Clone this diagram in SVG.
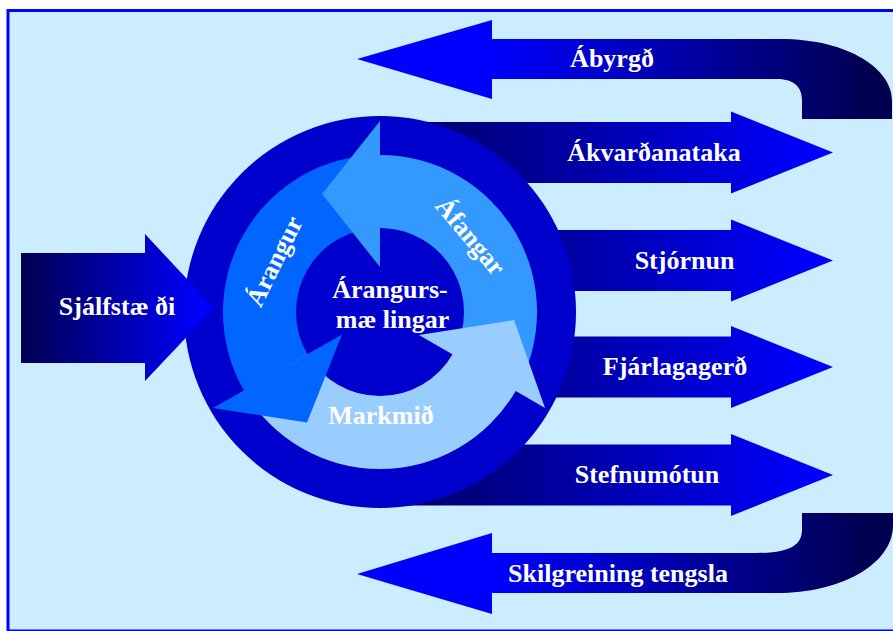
<svg xmlns="http://www.w3.org/2000/svg" width="893" height="631" viewBox="0 0 893 631">
  <defs>
    <linearGradient id="gradRight" gradientUnits="userSpaceOnUse" x1="400" y1="0" x2="820" y2="0">
      <stop offset="0" stop-color="#000066"/>
      <stop offset="1" stop-color="#0000FF"/>
    </linearGradient>
    <linearGradient id="gradLeftCurl" gradientUnits="userSpaceOnUse" x1="490" y1="0" x2="870" y2="0">
      <stop offset="0" stop-color="#0000FF"/>
      <stop offset="1" stop-color="#000050"/>
    </linearGradient>
    <linearGradient id="gradIn" gradientUnits="userSpaceOnUse" x1="21" y1="0" x2="205" y2="0">
      <stop offset="0" stop-color="#000050"/>
      <stop offset="1" stop-color="#0000FF"/>
    </linearGradient>
    <style>
      .lbl { font-family: 'Liberation Serif', 'DejaVu Serif', serif; font-weight: bold; font-size: 26px; fill: #FFFFFF; text-anchor: middle; }
      .out { fill: url(#gradRight); }
      .curl { fill: url(#gradLeftCurl); }
      .ring { fill: #0000CC; }
      .c1 { fill: #0066FF; }
      .c2 { fill: #3399FF; }
      .c3 { fill: #99CCFF; }
    </style>
  </defs>

  <!-- panel -->
  <rect x="0" y="0" width="893" height="631" fill="#FFFFFF"/>
  <rect x="8" y="10.5" width="900" height="620.5" fill="#CCECFF" stroke="#0000FF" stroke-width="3"/>

  <!-- outgoing arrows (shafts start behind the cycle) -->
  <g id="connectors" font-family="Liberation Serif, serif">
    <g id="arrow-akvardanataka">
      <path class="out" d="M380,122 L731,122 L731,111.5 L833,152.5 L731,193.5 L731,183 L380,183 Z"/>
      <text class="lbl" x="654" y="161">Ákvarðanataka</text>
    </g>
    <g id="arrow-stjornun">
      <path class="out" d="M380,230 L731,230 L731,219.5 L833,260.5 L731,301.5 L731,291 L380,291 Z"/>
      <text class="lbl" x="684.5" y="269">Stjórnun</text>
    </g>
    <g id="arrow-fjarlagagerd">
      <path class="out" d="M380,336.5 L731,336.5 L731,326 L833,367 L731,408 L731,397.5 L380,397.5 Z"/>
      <text class="lbl" x="675" y="375">Fjárlagagerð</text>
    </g>
    <g id="arrow-stefnumotun">
      <path class="out" d="M380,444.5 L731,444.5 L731,434 L833,475 L731,516 L731,505.5 L380,505.5 Z"/>
      <text class="lbl" x="647" y="483">Stefnumótun</text>
    </g>
  </g>

  <!-- central cycle -->
  <g id="cycle">
    <circle class="ring" cx="380" cy="312" r="196"/>
    <!-- arrow bodies (annular sectors) -->
    <path id="body-markmid" class="c3" d="M515.97,390.5 A157,157 0 0 1 244.03,390.5 L307.25,354 A84,84 0 0 0 452.75,354 Z"/>
    <path id="body-arangur" class="c1" d="M244.03,390.5 A157,157 0 0 1 380,155 L380,228 A84,84 0 0 0 307.25,354 Z"/>
    <path id="body-afangar" class="c2" d="M380,155 A157,157 0 0 1 515.97,390.5 L452.75,354 A84,84 0 0 0 380,228 Z"/>
    <!-- arrow heads -->
    <polygon id="head-afangar" class="c2" points="380,121 322,194 380,267"/>
    <polygon id="head-arangur" class="c1" points="213,408 307,422.5 342,334.5"/>
    <polygon id="head-markmid" class="c3" points="545,408 514,320 419,335"/>
  </g>

  <g id="node-arangurs">
    <text class="lbl" x="390" y="298">Árangurs-</text>
    <text class="lbl" x="392.5" y="328">mæ lingar</text>
  </g>
  <g id="node-arangur">
    <text class="lbl" transform="translate(282,265) rotate(-64)">Árangur</text>
  </g>
  <g id="node-afangar">
    <text class="lbl" transform="translate(464,242) rotate(50)">Áfangar</text>
  </g>
  <g id="node-markmid">
    <text class="lbl" x="381" y="424">Markmið</text>
  </g>

  <!-- incoming arrow -->
  <g id="node-sjalfstaedi">
    <path fill="url(#gradIn)" d="M21,253 L145,253 L145,234 L214,308 L145,381 L145,363 L21,363 Z"/>
    <text class="lbl" x="117" y="315">Sjálfstæ ði</text>
  </g>

  <!-- returning curled arrows -->
  <g id="node-abyrgd">
    <path class="curl" d="M357,59 L492,20 L492,39 L780,39 C850,39 892,70 892,100 L892,119 L802,119 L802,100 C802,88 795,79 777,79 L492,79 L492,99 Z"/>
    <text class="lbl" x="612" y="67">Ábyrgð</text>
  </g>
  <g id="node-skilgreining">
    <path class="curl" d="M357,574 L492,533 L492,553 L756,553 C790,553 802,545 802,530 L802,513 L893,513 L893,525 C893,565 840,593 777,593 L492,593 L492,614 Z"/>
    <text class="lbl" x="618" y="582">Skilgreining tengsla</text>
  </g>
</svg>
